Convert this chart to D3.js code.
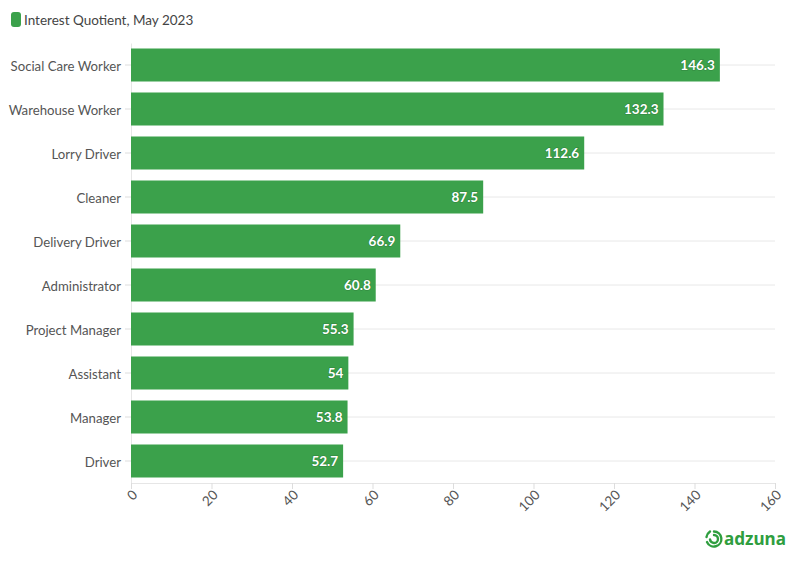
<!DOCTYPE html>
<html>
<head>
<meta charset="utf-8">
<script src="https://cdn.jsdelivr.net/npm/d3@7"></script>
<style>
    body { margin: 0; background: #fff; }
    text { font-family: "Source Sans Pro", "Lato", "Noto Sans", sans-serif; }
</style>
</head>
<body>
<svg id="chart" width="796" height="563"></svg>
<script>
var jobs = ['Social Care Worker', 'Warehouse Worker', 'Lorry Driver', 'Cleaner', 'Delivery Driver',
    'Administrator', 'Project Manager', 'Assistant', 'Manager', 'Driver'];
var quotient = [146.3, 132.3, 112.6, 87.5, 66.9, 60.8, 55.3, 54, 53.8, 52.7];
var xTicks = [0, 20, 40, 60, 80, 100, 120, 140, 160];
var seriesName = 'Interest Quotient, May 2023';

(function () {
    var green = '#3ba14b';
    var svg = d3.select('#chart');

    var x = d3.scaleLinear().domain([0, 160]).range([131, 775]);
    var y = d3.scaleBand().domain(jobs).range([43, 483]).paddingInner(0.25).paddingOuter(0.125);

    // legend
    svg.append('rect')
        .attr('x', 11).attr('y', 12).attr('width', 10).attr('height', 15)
        .attr('rx', 3).attr('fill', green);
    svg.append('text')
        .attr('x', 24).attr('y', 24.5)
        .attr('font-size', 13.5).attr('fill', '#444')
        .text(seriesName);

    // horizontal grid lines at category centres
    svg.append('g').selectAll('line')
        .data(jobs)
        .enter().append('line')
        .attr('x1', x(0)).attr('x2', x(160))
        .attr('y1', function (d) { return y(d) + y.bandwidth() / 2; })
        .attr('y2', function (d) { return y(d) + y.bandwidth() / 2; })
        .attr('stroke', '#e8e8e8');

    // y axis
    var yAxis = svg.append('g')
        .attr('transform', 'translate(' + x(0) + ',0)')
        .call(d3.axisLeft(y).tickSize(6).tickPadding(4).tickSizeOuter(0));
    yAxis.select('.domain').attr('stroke', '#e6e6e6');
    yAxis.selectAll('.tick line').attr('stroke', '#ddd');
    yAxis.selectAll('.tick text')
        .attr('font-size', 13.2).attr('fill', '#555')
        .attr('dy', '0.42em')
        .style('font-family', '"Source Sans Pro", "Lato", "Noto Sans", sans-serif');

    // x axis
    var xAxis = svg.append('g')
        .attr('transform', 'translate(0,483)')
        .call(d3.axisBottom(x).tickValues(xTicks).tickSize(6).tickSizeOuter(0));
    xAxis.select('.domain').attr('stroke', '#e6e6e6');
    xAxis.selectAll('.tick line').attr('stroke', '#ddd');
    xAxis.selectAll('.tick text')
        .attr('font-size', 13.5).attr('fill', '#555')
        .style('font-family', '"Source Sans Pro", "Lato", "Noto Sans", sans-serif')
        .attr('text-anchor', 'end')
        .attr('dy', null)
        .attr('y', 0)
        .attr('transform', 'translate(4,10) rotate(-45) translate(0,4)');

    // bars
    var data = jobs.map(function (j, i) { return { job: j, value: quotient[i] }; });

    svg.append('g').selectAll('rect')
        .data(data)
        .enter().append('rect')
        .attr('x', x(0))
        .attr('y', function (d) { return y(d.job); })
        .attr('width', function (d) { return x(d.value) - x(0); })
        .attr('height', y.bandwidth())
        .attr('fill', green);

    svg.append('g').selectAll('text')
        .data(data)
        .enter().append('text')
        .attr('x', function (d) { return x(d.value) - 5; })
        .attr('y', function (d) { return y(d.job) + y.bandwidth() / 2; })
        .attr('dy', '0.4em')
        .attr('text-anchor', 'end')
        .attr('font-size', 13.5).attr('font-weight', 'bold')
        .attr('fill', '#fff')
        .attr('stroke', 'rgba(0,0,0,0.15)').attr('stroke-width', 1.5)
        .attr('paint-order', 'stroke')
        .text(function (d) { return d.value; });

    // logo
    var logo = svg.append('g').attr('transform', 'translate(714,539)');
    logo.append('path')
        .attr('d', 'M0,-7.5 A7.5,7.5 0 1 1 -7,3 M0,-4 A4,4 0 1 1 -4,0.5 M-4,-7.5 A8.5,8.5 0 0 0 -7.5,-2')
        .attr('fill', 'none').attr('stroke', '#2f9e3f').attr('stroke-width', 2.4)
        .attr('stroke-linecap', 'round');
    logo.append('text')
        .attr('x', 10).attr('y', 6)
        .attr('font-size', 18).attr('font-weight', 'bold')
        .attr('fill', '#2f9e3f')
        .attr('textLength', 62).attr('lengthAdjust', 'spacingAndGlyphs')
        .style('font-family', '"Noto Sans", sans-serif')
        .text('adzuna');
}());
</script>
</body>
</html>
